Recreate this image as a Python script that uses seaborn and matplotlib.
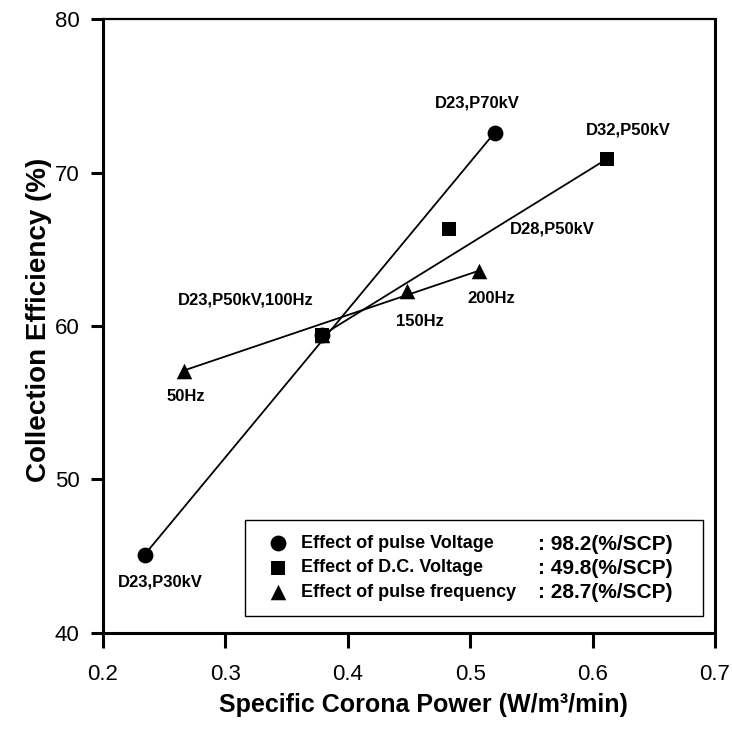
import numpy as np
import pandas as pd
import seaborn as sns
import matplotlib.pyplot as plt

# data (x: W/m3/min, y: %)
pulse_v_x = [0.234, 0.379, 0.520]
pulse_v_y = [45.1, 59.4, 72.6]
dc_v_x = [0.379, 0.483, 0.612]
dc_v_y = [59.4, 66.3, 70.9]
freq_x = [0.266, 0.379, 0.448, 0.507]
freq_y = [57.1, 59.4, 62.3, 63.6]

series_names = ["Effect of pulse Voltage", "Effect of D.C. Voltage",
                "Effect of pulse frequency"]
slopes = [": 98.2(%/SCP)", ": 49.8(%/SCP)", ": 28.7(%/SCP)"]

# point labels: (text, x, y)
point_labels = [
    ("D23,P30kV", 0.247, 43.3),
    ("D23,P50kV,100Hz", 0.317, 61.7),
    ("50Hz", 0.268, 55.4),
    ("150Hz", 0.459, 60.3),
    ("200Hz", 0.517, 61.8),
    ("D23,P70kV", 0.506, 74.5),
    ("D32,P50kV", 0.629, 72.8),
    ("D28,P50kV", 0.567, 66.3),
]

sns.set_style("ticks")
plt.rcParams['font.family'] = ['Liberation Sans', 'DejaVu Sans']
plt.rcParams.update({"text.color": "black", "axes.labelcolor": "black",
                     "xtick.color": "black", "ytick.color": "black"})

fig = plt.figure(figsize=(7.32, 7.35), dpi=100)
ax = fig.add_axes([0.1407, 0.1388, 0.8361, 0.8353])

groups = [
    (pulse_v_x, pulse_v_y, "o", 130),
    (freq_x, freq_y, "^", 125),
    (dc_v_x, dc_v_y, "s", 115),
]
for xs, ys, mk, sz in groups:
    # straight line between the end points of each series
    sns.lineplot(x=[xs[0], xs[-1]], y=[ys[0], ys[-1]], ax=ax,
                 color="black", linewidth=1.3, zorder=2)
for (xs, ys, mk, sz), name in zip(groups, [series_names[0], series_names[2], series_names[1]]):
    sns.scatterplot(x=xs, y=ys, ax=ax, marker=mk, s=sz, color="black",
                    edgecolor="black", linewidth=0, label=name, zorder=3)

for txt, tx, ty in point_labels:
    ax.text(tx, ty, txt, ha="center", va="center", fontsize=12,
            fontweight="bold")

ax.set_xlim(0.2, 0.7)
ax.set_ylim(40, 80)
ax.set_xticks(np.arange(0.2, 0.71, 0.1))
ax.set_xticklabels(["0.2", "0.3", "0.4", "0.5", "0.6", "0.7"])
ax.set_yticks([40, 50, 60, 70, 80])
ax.tick_params(axis="x", length=11, width=2.2, labelsize=16, pad=11,
               direction="out")
ax.tick_params(axis="y", length=9, width=2.2, labelsize=16, pad=8,
               direction="out")
for side in ["left", "right", "top", "bottom"]:
    ax.spines[side].set_visible(True)
    ax.spines[side].set_color("black")
    ax.spines[side].set_linewidth(2.2)
ax.spines["top"].set_linewidth(1.6)

ax.set_xlabel("Specific Corona Power (W/m\u00b3/min)", fontsize=18,
              fontweight="bold")
ax.set_ylabel("Collection Efficiency (%)", fontsize=20, fontweight="bold")
ax.xaxis.set_label_coords(0.524, -0.097)
ax.yaxis.set_label_coords(-0.083, 0.51)

handles, labels = ax.get_legend_handles_labels()
order = [labels.index(n) for n in series_names]
leg = ax.legend([handles[i] for i in order], [labels[i] for i in order],
                loc="lower left", bbox_to_anchor=(0.2316, 0.027, 0.749, 0.16),
                mode="expand", frameon=True, fancybox=False, framealpha=1,
                edgecolor="black", prop={"size": 13, "weight": "bold"},
                handlelength=2.0, handletextpad=0.25, labelspacing=0.42,
                borderpad=0.85, borderaxespad=0, scatterpoints=1)
leg.get_frame().set_linewidth(1.0)

for val, yy in zip(slopes, [0.1445, 0.1055, 0.0665]):
    ax.text(0.711, yy, val, transform=ax.transAxes, ha="left", va="center",
            fontsize=15, fontweight="bold", zorder=6)

fig.savefig("out.png", dpi=100)
